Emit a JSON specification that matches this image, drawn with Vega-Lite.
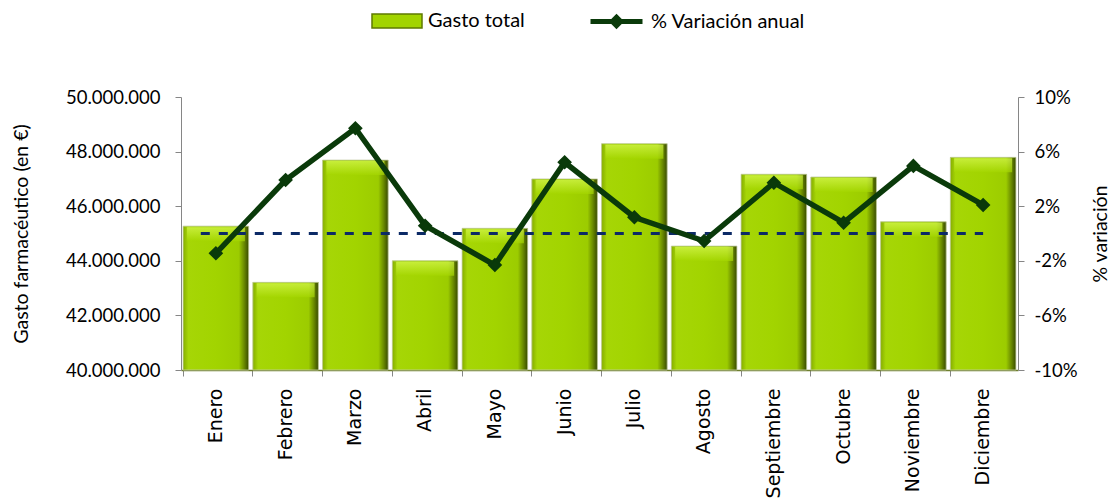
{
  "$schema": "https://vega.github.io/schema/vega-lite/v6.json",
  "width": 837,
  "height": 273,
  "autosize": {"type": "none"},
  "padding": {"left": 181, "top": 97, "right": 92, "bottom": 128},
  "background": "white",
  "config": {
    "locale": {"number": {"decimal": ",", "thousands": ".", "grouping": [3], "currency": ["", " €"], "minus": "-", "percent": "%"}},
    "view": {"stroke": null},
    "axis": {"grid": false, "labelColor": "#000000", "titleColor": "#000000", "domainColor": "#868686", "tickColor": "#868686", "titleFontWeight": "normal"}
  },
  "datasets": {
    "gasto": [
      {"mes": "Enero", "gasto": 45270000, "variacion": -0.0145},
      {"mes": "Febrero", "gasto": 43210000, "variacion": 0.0392},
      {"mes": "Marzo", "gasto": 47690000, "variacion": 0.0771},
      {"mes": "Abril", "gasto": 44000000, "variacion": 0.0057},
      {"mes": "Mayo", "gasto": 45190000, "variacion": -0.0231},
      {"mes": "Junio", "gasto": 47000000, "variacion": 0.0522},
      {"mes": "Julio", "gasto": 48290000, "variacion": 0.0119},
      {"mes": "Agosto", "gasto": 44540000, "variacion": -0.0055},
      {"mes": "Septiembre", "gasto": 47170000, "variacion": 0.0372},
      {"mes": "Octubre", "gasto": 47070000, "variacion": 0.0079},
      {"mes": "Noviembre", "gasto": 45430000, "variacion": 0.0495},
      {"mes": "Diciembre", "gasto": 47790000, "variacion": 0.0209}
    ]
  },
  "data": {"name": "gasto"},
  "encoding": {
    "x": {
      "field": "mes",
      "type": "nominal",
      "scale": {
        "domain": ["Enero", "Febrero", "Marzo", "Abril", "Mayo", "Junio", "Julio", "Agosto", "Septiembre", "Octubre", "Noviembre", "Diciembre"],
        "paddingInner": 0.06,
        "paddingOuter": 0.03
      },
      "axis": {
        "title": null,
        "labelAngle": -90,
        "labelAlign": "right",
        "labelBaseline": "middle",
        "labelFont": "DejaVu Sans",
        "labelFontSize": 19,
        "labelPadding": 12,
        "tickSize": 6,
        "bandPosition": 0,
        "domainColor": "#6f7f2f",
        "domainWidth": 1.5
      }
    }
  },
  "layer": [
    {
      "encoding": {
        "y": {
          "field": "gasto",
          "type": "quantitative",
          "scale": {"domain": [40000000, 50000000], "zero": false, "nice": false},
          "axis": {
            "title": "Gasto farmacéutico (en €)",
            "values": [40000000, 42000000, 44000000, 46000000, 48000000, 50000000],
            "format": ",.0f",
            "labelFont": "Lato",
            "labelFontSize": 18.5,
            "labelPadding": 15,
            "tickSize": 6,
            "titleFont": "Lato",
            "titleFontSize": 19.5,
            "titlePadding": 34
          }
        },
        "y2": {"datum": 40000000}
      },
      "layer": [
        {
          "mark": {"type": "bar"},
          "encoding": {
            "fill": {
              "datum": "Gasto total",
              "type": "nominal",
              "scale": {"range": ["#a2d400"]},
              "legend": {
                "title": null,
                "orient": "none",
                "legendX": 190,
                "legendY": -102,
                "padding": 0,
                "symbolType": "M-1,-0.28H1V0.28H-1Z",
                "symbolSize": 2500,
                "symbolStrokeColor": "#5f7a00",
                "symbolStrokeWidth": 1.5,
                "labelFont": "Lato",
                "labelFontSize": 20,
                "labelColor": "#000000",
                "labelOffset": 5
              }
            }
          }
        },
        {
          "mark": {
            "type": "bar",
            "stroke": "#c4cca8",
            "strokeWidth": 0.8,
            "color": {
              "gradient": "linear",
              "x1": 0, "y1": 0, "x2": 1, "y2": 0,
              "stops": [
                {"offset": 0, "color": "#86ad00"},
                {"offset": 0.08, "color": "#a6d606"},
                {"offset": 0.5, "color": "#a2d400"},
                {"offset": 0.85, "color": "#9ccc00"},
                {"offset": 0.93, "color": "#6a8a00"},
                {"offset": 1, "color": "#384a00"}
              ]
            }
          }
        },
        {
          "mark": {
            "type": "tick",
            "thickness": 14,
            "size": 58,
            "yOffset": 8,
            "color": {
              "gradient": "linear",
              "x1": 0, "y1": 0, "x2": 0, "y2": 1,
              "stops": [
                {"offset": 0, "color": "#d6f850"},
                {"offset": 1, "color": "#a4d600"}
              ]
            }
          }
        }
      ]
    },
    {
      "encoding": {
        "y": {
          "field": "variacion",
          "type": "quantitative",
          "scale": {"domain": [-0.1, 0.1], "nice": false, "zero": false},
          "axis": {
            "orient": "right",
            "title": "% variación",
            "titleAngle": 270,
            "values": [-0.1, -0.06, -0.02, 0.02, 0.06, 0.1],
            "format": ".0%",
            "labelFont": "Lato",
            "labelFontSize": 18.5,
            "labelPadding": 10,
            "tickSize": 6,
            "titleFont": "Lato",
            "titleFontSize": 19.5,
            "titlePadding": 33
          }
        }
      },
      "layer": [
        {
          "transform": [{"filter": "datum.mes === 'Enero'"}],
          "mark": {"type": "rule", "stroke": "#0c2a66", "strokeWidth": 3, "strokeDash": [9, 9]},
          "encoding": {
            "x": {"field": "mes", "type": "nominal", "bandPosition": 0.27},
            "x2": {"datum": "Diciembre"},
            "y": {"datum": 0, "type": "quantitative"}
          }
        },
        {
          "mark": {"type": "line", "strokeWidth": 5.5, "point": {"shape": "diamond", "size": 140, "filled": true, "color": "#0a3a0a"}},
          "encoding": {
            "stroke": {
              "datum": "% Variación anual",
              "type": "nominal",
              "scale": {"range": ["#0a3a0a"]},
              "legend": {
                "title": null,
                "orient": "none",
                "legendX": 407,
                "legendY": -104,
                "padding": 0,
                "symbolType": "M-1,0H1M0,-0.16L0.16,0L0,0.16L-0.16,0Z",
                "symbolSize": 2704,
                "symbolStrokeWidth": 5,
                "symbolFillColor": "#0a3a0a",
                "labelFont": "Lato",
                "labelFontSize": 20,
                "labelColor": "#000000",
                "labelOffset": 6
              }
            }
          }
        }
      ]
    }
  ],
  "resolve": {"scale": {"y": "independent", "fill": "independent", "stroke": "independent"}}
}
